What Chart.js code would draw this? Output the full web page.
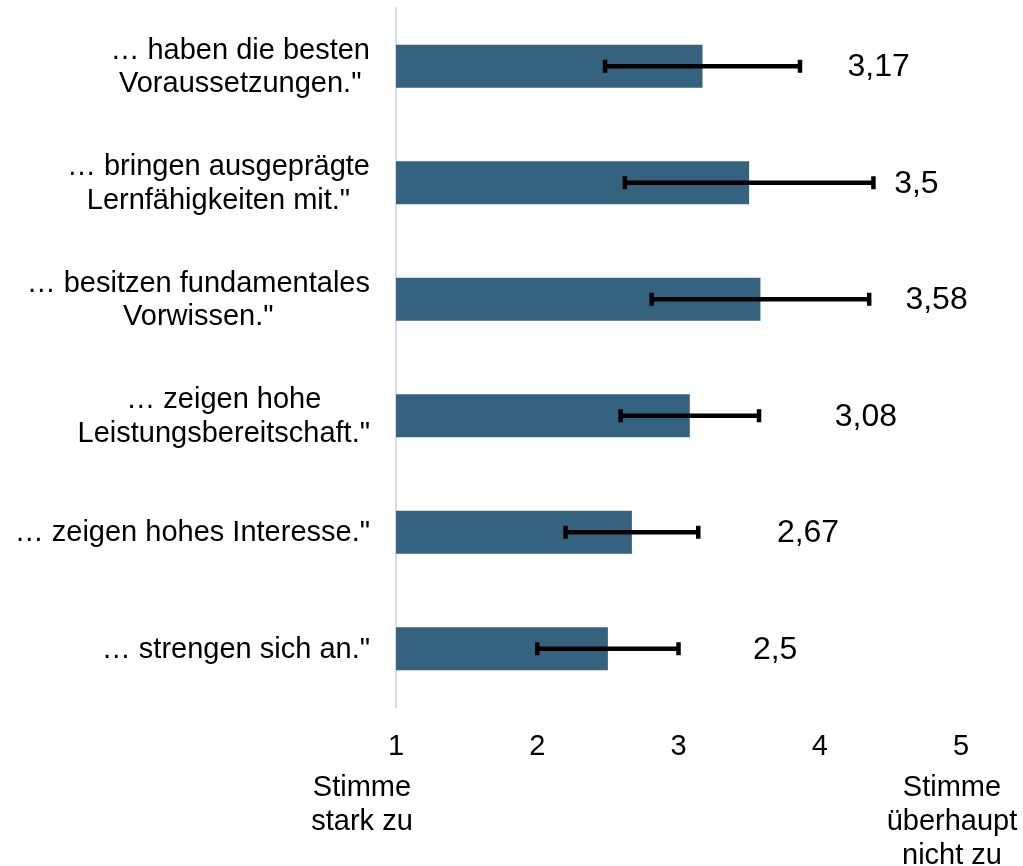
<!DOCTYPE html>
<html>
<head>
<meta charset="utf-8">
<script src="https://cdn.jsdelivr.net/npm/chart.js@4/dist/chart.umd.min.js"></script>
<style>
  body { margin: 0; background: #fff; }
  #wrap { width: 1023px; height: 866px; position: relative; }
</style>
</head>
<body>
<div id="wrap"><canvas id="meanChart"></canvas></div>
<script>
// statements (German survey items)
var items = [
    ['… haben die besten', 'Voraussetzungen."'],
    ['… bringen ausgeprägte', 'Lernfähigkeiten mit."'],
    ['… besitzen fundamentales', 'Vorwissen."'],
    ['… zeigen hohe', 'Leistungsbereitschaft."'],
    ['… zeigen hohes Interesse."'],
    ['… strengen sich an."']
];
var means = [3.17, 3.5, 3.58, 3.08, 2.67, 2.5];
var sds = [0.69, 0.88, 0.77, 0.49, 0.47, 0.5];
var xTicks = [1, 2, 3, 4, 5];
var lowLabel = ['Stimme', 'stark zu'];
var highLabel = ['Stimme', 'überhaupt', 'nicht zu'];

var FONT = '"Liberation Sans", Arial, sans-serif';

var extras = {
    id: 'extras',
    afterDatasetsDraw: function(chart){
        var ctx = chart.ctx;
        var xs = chart.scales.x;
        var ys = chart.scales.y;
        ctx.save();
        // error bars
        ctx.strokeStyle = '#000';
        ctx.lineWidth = 4.5;
        means.forEach(function(m, i){
            var y = ys.getPixelForValue(i);
            var x0 = xs.getPixelForValue(m - sds[i]);
            var x1 = xs.getPixelForValue(m + sds[i]);
            ctx.beginPath();
            ctx.moveTo(x0, y); ctx.lineTo(x1, y);
            ctx.moveTo(x0, y - 6.5); ctx.lineTo(x0, y + 6.5);
            ctx.moveTo(x1, y - 6.5); ctx.lineTo(x1, y + 6.5);
            ctx.stroke();
        });
        // value labels
        ctx.fillStyle = '#000';
        ctx.font = '32px ' + FONT;
        ctx.textAlign = 'left';
        ctx.textBaseline = 'middle';
        means.forEach(function(m, i){
            ctx.fillText(String(m).replace('.', ','), xs.getPixelForValue(m) + 145, ys.getPixelForValue(i) + 1);
        });
        // category labels, lines centred in a right-aligned block
        ctx.font = '29px ' + FONT;
        ctx.textAlign = 'center';
        items.forEach(function(lines, i){
            var w = 0;
            lines.forEach(function(t){ w = Math.max(w, ctx.measureText(t).width); });
            var cx = 370 - w / 2;
            var cy = ys.getPixelForValue(i) + 1;
            lines.forEach(function(t, k){
                ctx.fillText(t, cx, cy + (k - (lines.length - 1) / 2) * 33.5);
            });
        });
        // end-of-scale descriptions
        lowLabel.forEach(function(t, k){
            ctx.fillText(t, xs.getPixelForValue(1) - 34, 788 + k * 34);
        });
        highLabel.forEach(function(t, k){
            ctx.fillText(t, xs.getPixelForValue(5) - 9, 788 + k * 34);
        });
        ctx.restore();
    }
};

new Chart('meanChart', {
    type: 'bar',
    data: {
        labels: items,
        datasets: [{
            data: means,
            backgroundColor: '#35627f',
            barPercentage: 0.37,
            categoryPercentage: 1
        }]
    },
    options: {
        indexAxis: 'y',
        responsive: true,
        maintainAspectRatio: false,
        animation: false,
        layout: { padding: { top: 8, right: 62, left: 0, bottom: 0 } },
        plugins: { legend: { display: false }, tooltip: { enabled: false } },
        scales: {
            x: {
                min: 1,
                max: 5,
                afterBuildTicks: function(s){ s.ticks = xTicks.map(function(v){ return {value: v}; }); },
                afterFit: function(s){ s.height = 159; },
                grid: { display: false },
                border: { display: false },
                ticks: { color: '#000', padding: 15, font: { size: 29, family: FONT } }
            },
            y: {
                afterFit: function(s){ s.width = 396; },
                grid: { display: false },
                border: { display: true, color: '#d9dcef', width: 2 },
                ticks: { display: false }
            }
        }
    },
    plugins: [extras]
});
</script>
</body>
</html>
